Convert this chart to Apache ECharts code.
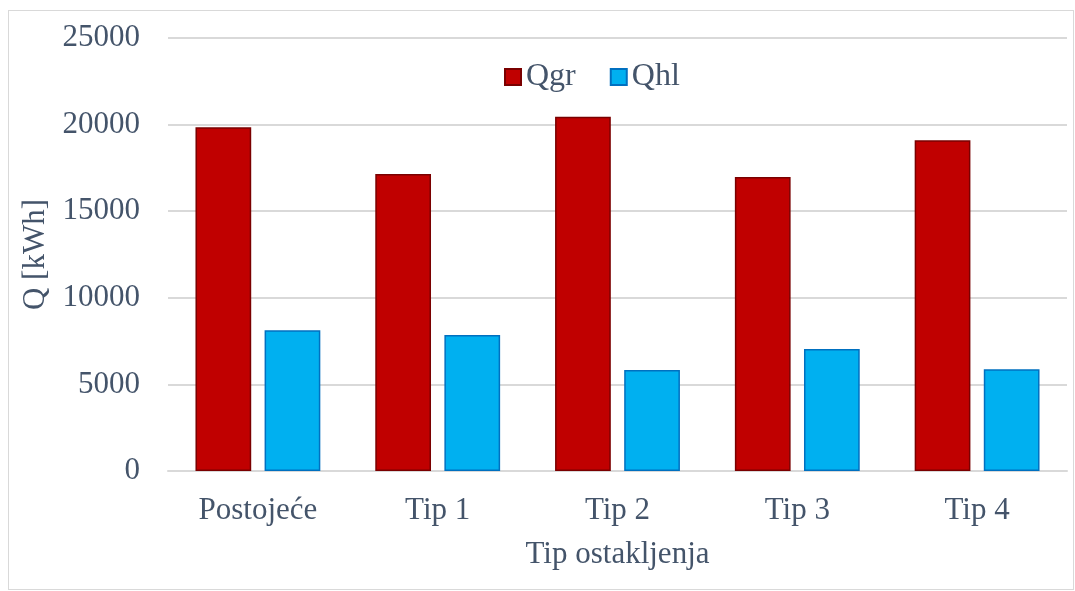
<!DOCTYPE html>
<html>
<head>
<meta charset="utf-8">
<script src="https://cdn.jsdelivr.net/npm/echarts@6/dist/echarts.min.js"></script>
<style>
  html, body { margin: 0; padding: 0; background: #fff; }
  #frame { position: absolute; left: 8px; top: 10px; width: 1066px; height: 580px; border: 1px solid #d9d9d9; box-sizing: border-box; }
  #chart { width: 1075px; height: 591px; }
</style>
</head>
<body>
<div id="frame"></div>
<div id="chart"></div>
<script>
// data
var categories = ['Postojeće', 'Tip 1', 'Tip 2', 'Tip 3', 'Tip 4'];
var qgr = [19850, 17150, 20450, 16980, 19100];
var qhl = [8130, 7850, 5830, 7040, 5880];

var textColor = '#44546a';
var font = '"Liberation Serif", "DejaVu Serif", serif';

var option = {
    animation: false,
    textStyle: { fontFamily: font, color: textColor },
    legend: {
        top: 56,
        left: 499,
        itemWidth: 16,
        itemHeight: 16,
        itemGap: 34,
        icon: 'rect',
        textStyle: { fontFamily: font, fontSize: 32, color: textColor },
        data: ['Qgr', 'Qhl']
    },
    grid: {
        left: 168,
        right: 8,
        top: 38,
        bottom: 120
    },
    xAxis: {
        type: 'category',
        data: categories,
        name: 'Tip ostakljenja',
        nameLocation: 'middle',
        nameGap: 68,
        nameTextStyle: { fontFamily: font, fontSize: 31, color: textColor },
        axisLine: { lineStyle: { color: '#d9d9d9', width: 2 } },
        axisTick: { show: false },
        axisLabel: { fontFamily: font, fontSize: 31, color: textColor, margin: 24 }
    },
    yAxis: {
        type: 'value',
        min: 0,
        max: 25000,
        interval: 5000,
        name: 'Q [kWh]',
        nameLocation: 'middle',
        nameGap: 115,
        nameTextStyle: { fontFamily: font, fontSize: 31, color: textColor },
        axisLine: { show: false },
        axisTick: { show: false },
        axisLabel: {
            fontFamily: font, fontSize: 31, color: textColor, margin: 28,
            formatter: function (v) { return String(v); }
        },
        splitLine: { lineStyle: { color: '#d9d9d9', width: 2 } }
    },
    series: [
        {
            name: 'Qgr',
            type: 'bar',
            data: qgr,
            barWidth: '31%',
            barGap: '24%',
            itemStyle: { color: '#c00000', borderColor: '#7a0000', borderWidth: 1.5 }
        },
        {
            name: 'Qhl',
            type: 'bar',
            data: qhl,
            barWidth: '31%',
            itemStyle: { color: '#00b0f0', borderColor: '#0070c0', borderWidth: 1.5 }
        }
    ]
};

var chart = echarts.init(document.getElementById('chart'));
chart.setOption(option);

window.addEventListener('resize', function () {
    chart.resize();
});
</script>
</body>
</html>
